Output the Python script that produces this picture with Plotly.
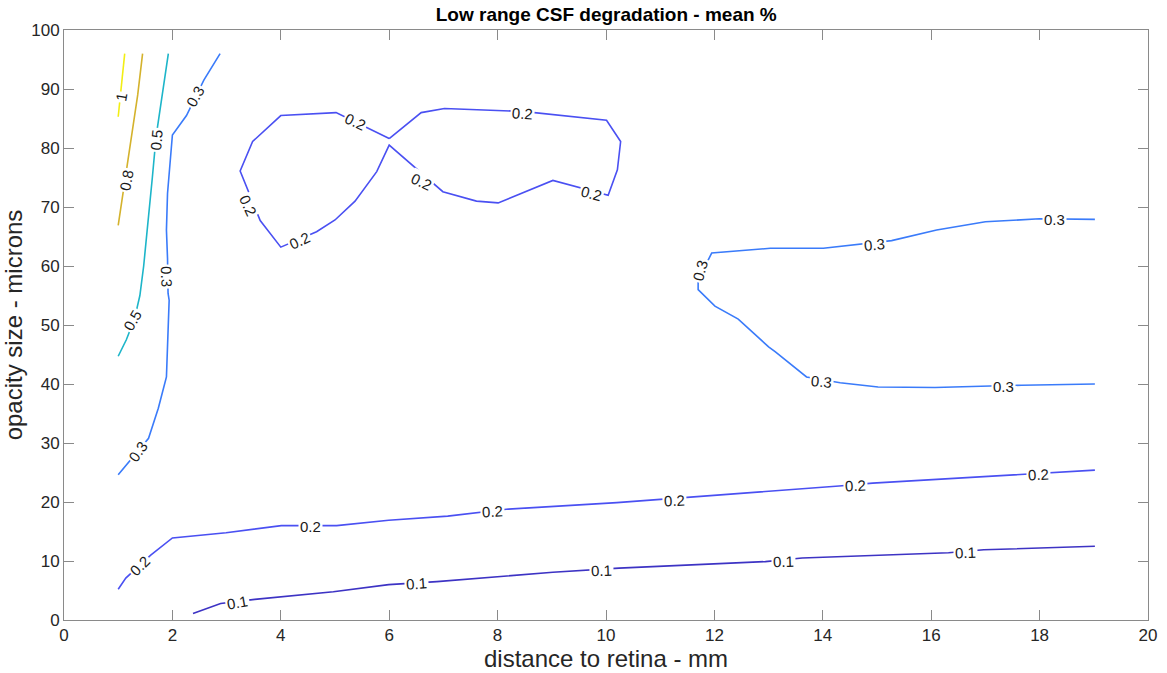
import plotly.graph_objects as go

# ---- data: contour polylines (distance mm, opacity size microns) ----
lvl_1_x = [1.0, 1.12]
lvl_1_y = [85.3, 96.0]

lvl_08_x = [1.0, 1.12, 1.25, 1.36, 1.45]
lvl_08_y = [66.9, 74.0, 82.0, 89.0, 96.0]

lvl_05_x = [1.0, 1.15, 1.3, 1.4, 1.47, 1.55, 1.63, 1.70, 1.78, 1.85, 1.925]
lvl_05_y = [44.7, 47.5, 51.0, 55.0, 60.0, 67.0, 75.0, 82.0, 87.0, 91.0, 96.0]

lvl_03a_x = [1.0, 1.56, 1.74, 1.89, 1.94, 1.92, 1.91, 1.89, 1.91, 2.0, 2.26, 2.58, 2.88]
lvl_03a_y = [24.6, 30.8, 35.9, 41.2, 54.2, 55.4, 61.3, 66.1, 72.3, 82.2, 85.5, 91.5, 96.0]

lvl_03b_x = [19.02, 18.0, 17.0, 16.1, 15.27, 14.62, 14.01, 13.03, 11.95, 11.7, 11.7,
             12.01, 12.44, 13.0, 13.12, 13.7, 14.32, 15.02, 16.07, 17.67, 19.02]
lvl_03b_y = [67.9, 68.0, 67.5, 66.1, 64.3, 63.6, 63.0, 63.0, 62.2, 57.6, 56.0,
             53.2, 51.0, 46.3, 45.5, 41.2, 40.2, 39.5, 39.4, 39.8, 40.0]

lvl_02a_x = [6.0, 6.59, 7.02, 8.46, 10.01, 10.27, 10.21, 10.04, 9.02, 8.01, 7.61, 6.99, 6.0,
             5.77, 5.37, 5.0, 4.66, 4.0, 3.62, 3.25, 3.48, 4.0, 5.02, 6.0]
lvl_02a_y = [81.6, 86.0, 86.7, 86.2, 84.7, 81.1, 76.3, 72.0, 74.5, 70.7, 71.0, 72.6, 80.5,
             76.0, 71.0, 67.8, 65.8, 63.2, 67.7, 76.1, 81.1, 85.5, 86.0, 81.6]

lvl_02b_x = [1.0, 1.14, 1.6, 2.0, 2.99, 4.01, 5.03, 5.99, 7.08, 8.2, 10.2, 11.57, 14.3, 14.92, 17.65, 19.02]
lvl_02b_y = [5.2, 7.1, 11.0, 13.9, 14.8, 16.0, 16.0, 16.9, 17.6, 18.8, 19.9, 20.8, 22.7, 23.2, 24.7, 25.4]

lvl_01_x = [2.38, 2.89, 3.52, 4.01, 4.97, 5.99, 6.88, 9.02, 10.24, 12.94, 13.62, 16.32, 16.97, 19.02]
lvl_01_y = [1.1, 2.8, 3.5, 3.9, 4.8, 6.0, 6.5, 8.1, 8.8, 9.9, 10.5, 11.4, 11.9, 12.5]

# ---- contour labels ----
label_text = ["1", "0.8", "0.5", "0.5", "0.3", "0.3", "0.3",
              "0.3", "0.3", "0.3", "0.3", "0.3",
              "0.2", "0.2", "0.2", "0.2", "0.2", "0.2",
              "0.2", "0.2", "0.2", "0.2", "0.2", "0.2",
              "0.1", "0.1", "0.1", "0.1", "0.1"]
label_x = [1.06, 1.16, 1.71, 1.26, 2.42, 1.89, 1.37,
           11.73, 14.96, 18.28, 13.98, 17.34,
           5.37, 3.4, 4.35, 8.46, 9.74, 6.59,
           1.40, 4.54, 7.9, 11.26, 14.6, 17.98,
           3.2, 6.51, 9.91, 13.28, 16.64]
label_y = [88.7, 74.6, 81.4, 50.8, 88.7, 58.2, 28.5,
           59.3, 63.7, 67.8, 40.4, 39.5,
           84.5, 70.3, 64.4, 85.9, 72.3, 74.3,
           9.3, 15.8, 18.4, 20.3, 22.8, 24.7,
           2.9, 6.2, 8.4, 10.0, 11.5]
label_angle = [-80, -80, -85, -60, -60, 88, -55,
               -75, -5, 0, 5, 0,
               25, 65, -25, 4, 15, 25,
               -45, 0, -3, -3, -3, -3,
               -10, -4, -2, -2, -2]

x_ticks = list(range(0, 21, 2))
y_ticks = list(range(0, 101, 10))

c01, c02, c03, c05, c08, c1 = "#3D33C4", "#4A50F2", "#3A7BFA", "#1DB5C9", "#D4B22C", "#F2EE14"
FONT = "Liberation Sans, Arial, Helvetica"

fig = go.Figure()
series = [
    (lvl_01_x, lvl_01_y, c01),
    (lvl_02a_x, lvl_02a_y, c02),
    (lvl_02b_x, lvl_02b_y, c02),
    (lvl_03a_x, lvl_03a_y, c03),
    (lvl_03b_x, lvl_03b_y, c03),
    (lvl_05_x, lvl_05_y, c05),
    (lvl_08_x, lvl_08_y, c08),
    (lvl_1_x, lvl_1_y, c1),
]
for xs, ys, col in series:
    fig.add_trace(go.Scatter(x=xs, y=ys, mode="lines",
                             line=dict(color=col, width=1.6),
                             hoverinfo="skip", showlegend=False))

for t, x, y, a in zip(label_text, label_x, label_y, label_angle):
    fig.add_annotation(x=x, y=y, text=t, textangle=a, showarrow=False,
                       font=dict(family=FONT, size=15, color="#1a1a1a"),
                       bgcolor="white", borderpad=1)

axis_common = dict(showgrid=False, zeroline=False, showline=True, mirror="ticks",
                   ticks="inside", ticklen=10, tickwidth=1, linewidth=1,
                   linecolor="#8a8a8a", tickcolor="#8a8a8a", automargin=False,
                   tickfont=dict(family=FONT, size=17, color="#262626"))

fig.update_layout(
    width=1167, height=673,
    margin=dict(l=64, r=19, t=30, b=53),
    paper_bgcolor="white", plot_bgcolor="white",
    title=dict(text="<b>Low range CSF degradation - mean %</b>",
               x=0.5195, xanchor="center", y=1 - 14 / 673, yanchor="middle",
               font=dict(family=FONT, size=19, color="#000000")),
    xaxis=dict(range=[0, 20], tickvals=x_ticks, title=dict(text="distance to retina - mm", standoff=5,
               font=dict(family=FONT, size=24, color="#262626")), **axis_common),
    yaxis=dict(range=[0, 100], tickvals=y_ticks, title=dict(text="opacity size - microns", standoff=4,
               font=dict(family=FONT, size=24, color="#262626")), **axis_common),
)

fig.write_html("out.html", config={"displayModeBar": False},
               post_script="document.body.style.margin='0px';")
